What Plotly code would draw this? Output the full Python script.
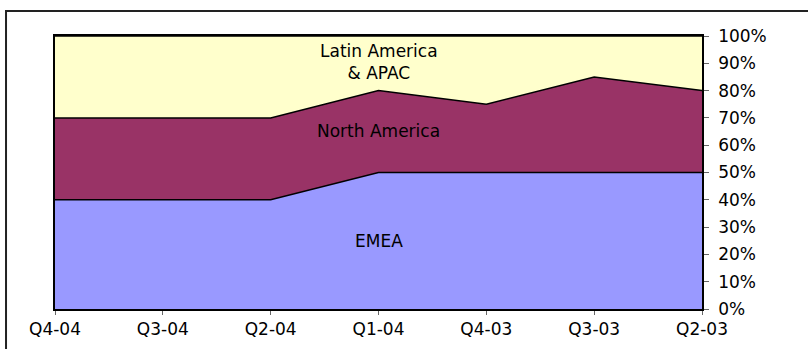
import plotly.graph_objects as go

quarters = ["Q4-04", "Q3-04", "Q2-04", "Q1-04", "Q4-03", "Q3-03", "Q2-03"]
emea = [40, 40, 40, 50, 50, 50, 50]
north_america = [30, 30, 30, 30, 25, 35, 30]
latam_apac = [30, 30, 30, 20, 25, 15, 20]

series = [
    ("EMEA", emea, "#9999FF"),
    ("North America", north_america, "#993366"),
    ("Latin America & APAC", latam_apac, "#FFFFCC"),
]

FONT = "DejaVu Sans"
FS = 17

fig = go.Figure()
for name, vals, col in series:
    fig.add_trace(go.Scatter(
        x=quarters, y=vals, name=name, mode="lines",
        stackgroup="one", fillcolor=col,
        line=dict(color="black", width=1.5),
        hoverinfo="skip",
    ))

labels = [
    ("Latin America<br>& APAC", 90.5),
    ("North America", 65.2),
    ("EMEA", 24.9),
]
for txt, yv in labels:
    fig.add_annotation(x=quarters[3], y=yv, text=txt, showarrow=False,
                       font=dict(family=FONT, size=FS, color="black"),
                       xanchor="center", yanchor="middle")

# outer frame
fig.add_shape(type="rect", xref="paper", yref="paper",
              x0=-0.0757, x1=1.19, y0=-0.2, y1=1.0916,
              line=dict(color="#222222", width=2), fillcolor="rgba(0,0,0,0)",
              layer="above")

fig.update_layout(
    width=808, height=349,
    margin=dict(l=55, r=106, t=36, b=40, autoexpand=False),
    paper_bgcolor="white", plot_bgcolor="white",
    showlegend=False,
    font=dict(family=FONT, size=FS, color="black"),
    xaxis=dict(
        type="category", range=[0, 6], showgrid=False, zeroline=False,
        showline=True, linecolor="black", linewidth=1.5, mirror=True,
        ticks="outside", ticklen=4, tickcolor="#666666", automargin=False,
        tickfont=dict(family=FONT, size=FS),
    ),
    yaxis=dict(
        side="right", range=[0, 100], dtick=10, ticksuffix="%",
        showgrid=False, zeroline=False,
        showline=True, linecolor="black", linewidth=1.5, mirror=True,
        ticks="outside", ticklen=5, tickcolor="#666666", automargin=False,
        ticklabelstandoff=6,
        tickfont=dict(family=FONT, size=FS),
    ),
)

fig.write_html("out.html")
